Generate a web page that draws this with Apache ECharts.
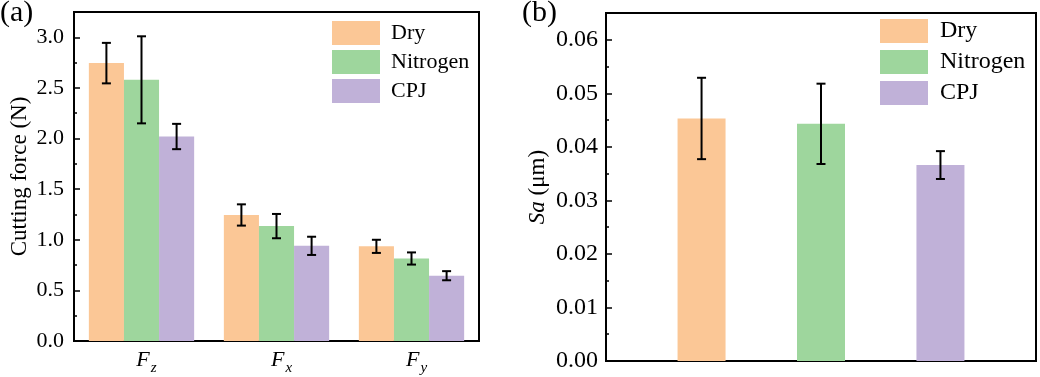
<!DOCTYPE html>
<html>
<head>
<meta charset="utf-8">
<script src="https://cdn.jsdelivr.net/npm/echarts@6/dist/echarts.min.js"></script>
<style>
  html, body { margin: 0; padding: 0; background: #fff; }
  #main { width: 1040px; height: 377px; }
</style>
</head>
<body>
<div id="main"></div>
<script>
// (a) cutting force, three components
const forceCategories = ["z", "x", "y"];
const forceDry = [2.745, 1.245, 0.935];
const forceDryErr = [0.2, 0.105, 0.065];
const forceNitrogen = [2.58, 1.135, 0.815];
const forceNitrogenErr = [0.43, 0.12, 0.06];
const forceCPJ = [2.02, 0.94, 0.645];
const forceCPJErr = [0.125, 0.09, 0.045];
const forceTicks = [0, 0.5, 1.0, 1.5, 2.0, 2.5, 3.0];

// (b) surface roughness Sa
const saPositions = [1, 2, 3];
const saValues = [0.0453, 0.0443, 0.0366];
const saErr = [0.0076, 0.0075, 0.0026];
const saTicks = [0, 0.01, 0.02, 0.03, 0.04, 0.05, 0.06];

const names = ["Dry", "Nitrogen", "CPJ"];
const colors = ["#FBC796", "#9ED69D", "#C0B1D8"];
const FONT = "Liberation Serif";

var chart = echarts.init(document.getElementById("main"));

function errLines(x, yTop, yBot) {
  const cap = 4.5;
  const st = { stroke: "#000", lineWidth: 2 };
  return {
    type: "group",
    children: [
      { type: "line", shape: { x1: x, y1: yTop, x2: x, y2: yBot }, style: st },
      { type: "line", shape: { x1: x - cap, y1: yTop, x2: x + cap, y2: yTop }, style: st },
      { type: "line", shape: { x1: x - cap, y1: yBot, x2: x + cap, y2: yBot }, style: st },
    ],
  };
}

// error bars for grouped bars (offset by series index k)
function forceErrItem(k) {
  return function (params, api) {
    const cat = api.value(0);
    const band = api.size([1, 0])[0];
    const dx = (k - 1) * band * 0.26;
    const top = api.coord([cat, api.value(2)]);
    const bot = api.coord([cat, api.value(1)]);
    return errLines(top[0] + dx, top[1], bot[1]);
  };
}

function saErrItem(params, api) {
  const top = api.coord([api.value(0), api.value(2)]);
  const bot = api.coord([api.value(0), api.value(1)]);
  return errLines(top[0], top[1], bot[1]);
}

const forceSets = [
  [forceDry, forceDryErr],
  [forceNitrogen, forceNitrogenErr],
  [forceCPJ, forceCPJErr],
];

var series = [];
forceSets.forEach(function (s, k) {
  series.push({
    name: names[k],
    type: "bar",
    xAxisIndex: 0,
    yAxisIndex: 0,
    barWidth: "26%",
    barGap: "0%",
    itemStyle: { color: colors[k] },
    data: s[0],
  });
});
forceSets.forEach(function (s, k) {
  series.push({
    name: "err-force-" + k,
    type: "custom",
    xAxisIndex: 0,
    yAxisIndex: 0,
    z: 10,
    renderItem: forceErrItem(k),
    data: s[0].map(function (v, i) {
      return [i, v - s[1][i], v + s[1][i]];
    }),
  });
});
names.forEach(function (n, k) {
  series.push({
    name: n,
    type: "bar",
    xAxisIndex: 1,
    yAxisIndex: 1,
    barWidth: 48,
    barGap: "-100%",
    itemStyle: { color: colors[k] },
    data: [[saPositions[k], saValues[k]]],
  });
});
series.push({
  name: "err-sa",
  type: "custom",
  xAxisIndex: 1,
  yAxisIndex: 1,
  z: 10,
  renderItem: saErrItem,
  data: saPositions.map(function (p, i) {
    return [p, saValues[i] - saErr[i], saValues[i] + saErr[i]];
  }),
});

var axisLine = { show: true, lineStyle: { color: "#000", width: 2 } };

var option = {
  animation: false,
  backgroundColor: "#fff",
  textStyle: { fontFamily: FONT, color: "#000" },
  title: [
    { text: "(a)", left: 0, top: -2, padding: 0, textStyle: { fontFamily: FONT, fontWeight: "normal", fontSize: 30, color: "#000" } },
    { text: "(b)", left: 522, top: -2, padding: 0, textStyle: { fontFamily: FONT, fontWeight: "normal", fontSize: 30, color: "#000" } },
  ],
  legend: [
    {
      data: names,
      orient: "vertical",
      left: 332,
      top: 21,
      itemWidth: 48,
      itemHeight: 24,
      itemGap: 5,
      icon: "rect",
      padding: 0,
      textStyle: { fontFamily: FONT, fontSize: 22, color: "#000", padding: [0, 0, 0, 6] },
    },
    {
      data: names,
      orient: "vertical",
      left: 880,
      top: 19,
      itemWidth: 48,
      itemHeight: 24,
      itemGap: 7,
      icon: "rect",
      padding: 0,
      textStyle: { fontFamily: FONT, fontSize: 24, color: "#000", padding: [0, 0, 0, 7] },
    },
  ],
  grid: [
    { left: 74, top: 12, width: 405, height: 329, show: true, borderColor: "#000", borderWidth: 2 },
    { left: 606, top: 13, width: 430, height: 348, show: true, borderColor: "#000", borderWidth: 2 },
  ],
  xAxis: [
    {
      gridIndex: 0,
      type: "category",
      data: forceCategories,
      axisLine: axisLine,
      axisTick: { show: false },
      axisLabel: {
        margin: 4,
        formatter: function (v) {
          return "{f|F}{s|" + v + "}";
        },
        rich: {
          f: { fontFamily: FONT, fontStyle: "italic", fontSize: 22, color: "#000", padding: [0, 0, 0, 10] },
          s: { fontFamily: FONT, fontStyle: "italic", fontSize: 15, color: "#000", padding: [16, 0, 0, 1] },
        },
      },
    },
    {
      gridIndex: 1,
      type: "value",
      min: 0.2,
      max: 3.8,
      axisLine: axisLine,
      axisTick: { show: false },
      axisLabel: { show: false },
      splitLine: { show: false },
    },
  ],
  yAxis: [
    {
      gridIndex: 0,
      type: "value",
      min: 0,
      max: 3.25,
      interval: forceTicks[1] - forceTicks[0],
      name: "Cutting force (N)",
      nameLocation: "middle",
      nameGap: 43,
      nameTextStyle: { fontFamily: FONT, fontSize: 23, color: "#000" },
      axisLine: axisLine,
      axisTick: { show: true, inside: true, length: 6, lineStyle: { color: "#000", width: 1.5 } },
      minorTick: { show: true, splitNumber: 2, length: 3, lineStyle: { color: "#000", width: 1.5 } },
      splitLine: { show: false },
      axisLabel: {
        margin: 10,
        showMaxLabel: false,
        fontFamily: FONT,
        fontSize: 22,
        color: "#000",
        formatter: function (v) {
          return forceTicks.indexOf(Math.round(v * 10) / 10) >= 0 ? v.toFixed(1) : "";
        },
      },
    },
    {
      gridIndex: 1,
      type: "value",
      min: 0,
      max: 0.065,
      interval: saTicks[1] - saTicks[0],
      name: "{i|Sa} (μm)",
      nameLocation: "middle",
      nameGap: 57,
      nameTextStyle: {
        fontFamily: FONT,
        fontSize: 23,
        color: "#000",
        rich: { i: { fontFamily: FONT, fontStyle: "italic", fontSize: 23, color: "#000" } },
      },
      axisLine: axisLine,
      axisTick: { show: true, inside: true, length: 6, lineStyle: { color: "#000", width: 1.5 } },
      minorTick: { show: true, splitNumber: 2, length: 3, lineStyle: { color: "#000", width: 1.5 } },
      splitLine: { show: false },
      axisLabel: {
        margin: 8,
        showMaxLabel: false,
        fontFamily: FONT,
        fontSize: 24,
        color: "#000",
        formatter: function (v) {
          return v.toFixed(2);
        },
      },
    },
  ],
  series: series,
};

chart.setOption(option);
</script>
</body>
</html>
